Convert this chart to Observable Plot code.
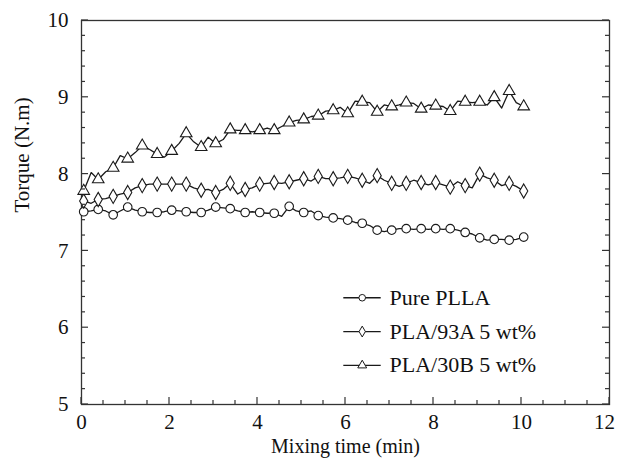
<!DOCTYPE html>
<html><head><meta charset="utf-8">
<script src="https://cdn.jsdelivr.net/npm/d3@7"></script>
<script src="https://cdn.jsdelivr.net/npm/@observablehq/plot@0.6"></script>
<style>
body{margin:0;background:#fff;}
#chart svg{display:block;}
</style>
</head><body><div id="chart"></div>
<script>
// ---- data ----
const times = [0.05,0.22,0.38,0.55,0.72,0.88,1.05,1.22,1.38,1.55,1.72,1.88,2.05,2.22,2.38,2.55,2.72,2.88,3.05,3.22,3.38,3.55,3.72,3.88,4.05,4.22,4.38,4.55,4.72,4.88,5.05,5.22,5.38,5.55,5.72,5.88,6.05,6.22,6.38,6.55,6.72,6.88,7.05,7.22,7.38,7.55,7.72,7.88,8.05,8.22,8.38,8.55,8.72,8.88,9.05,9.22,9.38,9.55,9.72,9.88,10.05];
const purePLLA = [7.51,7.52,7.54,7.52,7.47,7.52,7.57,7.53,7.51,7.50,7.50,7.51,7.53,7.52,7.51,7.50,7.50,7.53,7.57,7.56,7.55,7.52,7.50,7.51,7.50,7.49,7.49,7.45,7.58,7.52,7.50,7.52,7.46,7.44,7.43,7.42,7.40,7.37,7.36,7.33,7.27,7.25,7.27,7.29,7.29,7.28,7.29,7.28,7.29,7.28,7.29,7.27,7.24,7.22,7.17,7.14,7.15,7.15,7.14,7.15,7.18];
const pla93A = [7.65,7.62,7.67,7.68,7.71,7.74,7.76,7.82,7.85,7.87,7.87,7.87,7.87,7.87,7.87,7.82,7.79,7.80,7.76,7.80,7.88,7.74,7.80,7.82,7.87,7.88,7.89,7.88,7.90,7.92,7.94,7.91,7.97,7.94,7.94,7.95,7.97,7.95,7.92,7.88,7.98,7.92,7.88,7.84,7.88,7.92,7.89,7.86,7.89,7.86,7.83,7.90,7.85,7.82,8.00,7.95,7.92,7.85,7.88,7.84,7.78];
const pla30B = [7.78,8.02,7.93,8.03,8.08,8.24,8.20,8.28,8.37,8.32,8.26,8.22,8.30,8.40,8.53,8.42,8.35,8.48,8.40,8.45,8.58,8.57,8.57,8.55,8.57,8.60,8.57,8.62,8.67,8.70,8.71,8.75,8.76,8.82,8.83,8.87,8.79,8.95,8.94,8.93,8.81,8.90,8.88,8.90,8.93,8.92,8.85,8.90,8.89,8.88,8.82,8.95,8.94,8.93,8.94,8.90,9.00,8.86,9.08,8.93,8.88];
const seriesNames = ["Pure PLLA", "PLA/93A 5 wt%", "PLA/30B 5 wt%"];
const seriesSymbols = ["circle", "diamond", "triangle"];
const xTicks = [0, 2, 4, 6, 8, 10, 12];
const yTicks = [5, 6, 7, 8, 9, 10];
const xLabel = "Mixing time (min)";
const yLabel = "Torque (N.m)";

// ---- table built from the arrays ----
const seriesValues = [purePLLA, pla93A, pla30B];
const rows = [];
seriesValues.forEach((vals, s) => vals.forEach((v, i) => rows.push({t: times[i], v, series: seriesNames[s], marker: i % 2 === 0})));

// legend rows (layout in data space, inside the frame)
const legend = seriesNames.map((name, i) => ({name, x1: 5.95, x2: 6.8, xm: 6.38, xt: 7.0, y: 6.39 - 0.44 * i}));

const ink = "#1a1a1a";
const lastX = xTicks[xTicks.length - 1];
const chart = Plot.plot({
  width: 618, height: 461,
  marginLeft: 81, marginRight: 9, marginTop: 20, marginBottom: 57,
  style: {fontFamily: "'Liberation Serif', 'Times New Roman', serif", fontSize: "20px", color: "#111", background: "#fff"},
  x: {domain: [0, 12]},
  y: {domain: [5, 10]},
  symbol: {domain: seriesNames, range: seriesSymbols},
  marks: [
    Plot.axisX({ticks: xTicks.slice(0, -1), tickSize: 0, tickPadding: 10, label: null, fontSize: 21, tickFormat: d => String(d)}),
    Plot.axisX({ticks: [lastX], tickSize: 0, tickPadding: 10, label: null, fontSize: 21, tickFormat: d => String(d), dx: -5}),
    Plot.axisY({ticks: yTicks, tickSize: 0, tickPadding: 13, label: null, fontSize: 21, tickFormat: d => String(d)}),
    Plot.frame({stroke: "#333", strokeWidth: 1.3}),
    Plot.line(rows, {x: "t", y: "v", z: "series", stroke: ink, strokeWidth: 1.3}),
    Plot.dot(rows.filter(d => d.marker), {x: "t", y: "v", symbol: "series", r: 4.3, fill: "white", stroke: ink, strokeWidth: 1.1}),
    Plot.link(legend, {x1: "x1", x2: "x2", y1: "y", y2: "y", stroke: ink, strokeWidth: 1.3}),
    Plot.dot(legend, {x: "xm", y: "y", symbol: "name", r: 3.3, fill: "white", stroke: ink, strokeWidth: 1}),
    Plot.text(legend, {x: "xt", y: "y", text: "name", textAnchor: "start", fontSize: 22, fill: "#111"}),
    Plot.text([xLabel], {frameAnchor: "bottom", dy: 48, fontSize: 20, fill: "#111"}),
    Plot.text([yLabel], {frameAnchor: "left", dx: -59, rotate: -90, fontSize: 21, fill: "#111"})
  ]
});
document.getElementById("chart").appendChild(chart);

// inward tick marks drawn with the chart's own scales
const sx = chart.scale("x"), sy = chart.scale("y");
const x0 = sx.apply(0), x12 = sx.apply(12), y5 = sy.apply(5);
const g = d3.select(chart).append("g").attr("stroke", "#333").attr("stroke-width", 1.2);
d3.range(0, 12.001, 0.5).forEach(v => {
  const major = Math.abs(v / 2 - Math.round(v / 2)) < 1e-6;
  const len = major ? 7 : 4;
  const px = sx.apply(v);
  g.append("line").attr("x1", px).attr("x2", px).attr("y1", y5).attr("y2", y5 - len);
});
d3.range(5, 10.001, 0.2).forEach(v => {
  const major = Math.abs(v - Math.round(v)) < 1e-6;
  const len = major ? 7 : 4;
  const py = sy.apply(v);
  g.append("line").attr("x1", x0).attr("x2", x0 + len).attr("y1", py).attr("y2", py);
  g.append("line").attr("x1", x12).attr("x2", x12 - len).attr("y1", py).attr("y2", py);
});
</script>
</body></html>
